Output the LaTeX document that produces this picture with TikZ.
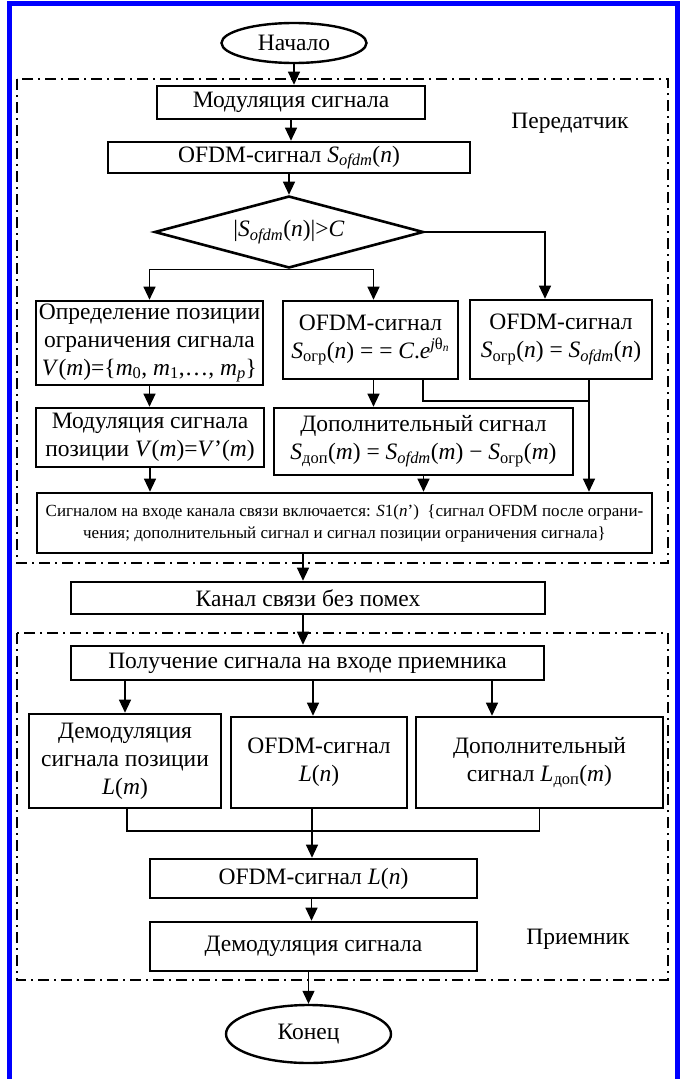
\documentclass[tikz,border=0pt]{standalone}
\usepackage{fontspec}
\setmainfont{Liberation Serif}
\usetikzlibrary{shapes.geometric,arrows.meta}
\newcommand\vi[1]{\textit{#1}}
\newcommand\low[1]{\textsubscript{#1}}
\tikzset{
  blk/.style={draw,line width=2.6pt,rectangle,inner sep=0pt,align=center},
  term/.style={draw,line width=2.4pt,ellipse,inner sep=0pt},
  arr/.style={line width=1.2pt,-{Triangle[width=12pt,length=13pt]}},
  ln/.style={line width=1.2pt},
  zone/.style={line width=2.2pt,dash pattern=on 11pt off 5pt on 2pt off 5pt},
}
\begin{document}
\begin{tikzpicture}[x=1pt,y=-1pt,font=\fontsize{23.5}{28}\selectfont]
\useasboundingbox (0,0) rectangle (685,1079);
\draw[blue,line width=5pt] (9,1090) -- (9,3) -- (677.5,3) -- (677.5,1090);

\draw[zone] (17,79) rectangle (668,563);
\draw[zone] (17,633) rectangle (668,980);

\node[term,minimum width=145pt,minimum height=40pt] (start) at (294,43) {Начало};
\node[blk,minimum width=268pt,minimum height=33pt] (mod) at (291,102.5) {Модуляция сигнала};
\node[blk,minimum width=362pt,minimum height=31pt] (ofdm) at (289,157.5) {OFDM-сигнал \vi{S}\low{\vi{ofdm}}(\vi{n})};
\node[draw,diamond,line width=2.6pt,inner sep=0pt,aspect=3.7,minimum width=269pt,minimum height=72pt] (cond) at (289,232) {|\vi{S}\low{\vi{ofdm}}(\vi{n})|>\vi{C}};
\node (txlbl) at (570,123) {Передатчик};

\node[blk,minimum width=227pt,minimum height=84pt] (pos) at (149.5,343) {Определение позиции\\ограничения сигнала\\\vi{V}(\vi{m})=\{\vi{m}\low{0}, \vi{m}\low{1},…, \vi{m}\low{\vi{p}}\}};
\node[blk,minimum width=175pt,minimum height=78pt] (clip) at (370.5,340) {OFDM-сигнал\\\vi{S}\low{огр}(\vi{n}) = = \vi{C}.\vi{e}\textsuperscript{\vi{j}θ\low{\vi{n}}}};
\node[blk,minimum width=182pt,minimum height=79pt] (nclip) at (561,339.5) {OFDM-сигнал\\\vi{S}\low{огр}(\vi{n}) = \vi{S}\low{\vi{ofdm}}(\vi{n})};
\node[blk,minimum width=228pt,minimum height=59pt] (posmod) at (150,437.5) {Модуляция сигнала\\позиции \vi{V}(\vi{m})=\vi{V}’(\vi{m})};
\node[blk,minimum width=299pt,minimum height=67pt] (extra) at (423.5,441.5) {Дополнительный сигнал\\\vi{S}\low{доп}(\vi{m}) = \vi{S}\low{\vi{ofdm}}(\vi{m}) − \vi{S}\low{огр}(\vi{m})};
\node[blk,minimum width=615pt,minimum height=60pt,font=\fontsize{17}{22}\selectfont] (sig) at (344.5,523) {Сигналом на входе канала связи включается: \vi{S}1(\vi{n}’)~ \{сигнал OFDM после ограни-\\чения; дополнительный сигнал и сигнал позиции ограничения сигнала\}};
\coordinate (jn) at (589,401);

\node[blk,minimum width=474pt,minimum height=32pt] (chan) at (308,598) {Канал связи без помех};
\node[blk,minimum width=473pt,minimum height=34pt] (rx) at (307.5,663) {Получение сигнала на входе приемника};
\node[blk,minimum width=192pt,minimum height=94pt] (dpos) at (125,761) {Демодуляция\\сигнала позиции\\\vi{L}(\vi{m})};
\node[blk,minimum width=176pt,minimum height=91pt] (dofdm) at (319,762.5) {OFDM-сигнал\\\vi{L}(\vi{n})};
\node[blk,minimum width=247pt,minimum height=91pt] (dextra) at (539.5,762.5) {Дополнительный\\сигнал \vi{L}\low{доп}(\vi{m})};
\coordinate (mrg) at (312,831);
\node[blk,minimum width=327pt,minimum height=39pt] (lofdm) at (313.5,878.5) {OFDM-сигнал \vi{L}(\vi{n})};
\node[blk,minimum width=327pt,minimum height=49pt] (demod) at (313.5,946.5) {Демодуляция сигнала};
\node (rxlbl) at (578,939) {Приемник};
\node[term,minimum width=165pt,minimum height=58pt] (end) at (308.5,1034) {Конец};

\draw[arr] (start.south) -- (start.south |- mod.north);
\draw[arr] (mod.south) -- (mod.south |- ofdm.north);
\draw[arr] (ofdm.south) -- (ofdm.south |- cond.north);
\draw[arr] (cond.south) -| (pos.north);
\draw[arr] (cond.south) -| ([xshift=3pt]clip.north);
\draw[arr] (cond.east) -| ([xshift=-16pt]nclip.north);
\draw[arr] (pos.south) -- (pos.south |- posmod.north);
\draw[arr] ([xshift=3pt]clip.south) -- ([xshift=3pt]clip.south |- extra.north);
\draw[ln] ([xshift=52.5pt]clip.south) |- (jn);
\draw[arr] ([xshift=28pt]nclip.south) -- ([xshift=28pt]nclip.south |- sig.north);
\draw[arr] (posmod.south) -- (posmod.south |- sig.north);
\draw[arr] (extra.south) -- (extra.south |- sig.north);
\draw[arr] ([xshift=-5pt]chan.north |- sig.south) -- ([xshift=-5pt]chan.north);
\draw[arr] ([xshift=-5pt]chan.south) -- ([xshift=-5pt]chan.south |- rx.north);
\draw[arr] (dpos.north |- rx.south) -- (dpos.north);
\draw[arr] ([xshift=-6pt]dofdm.north |- rx.south) -- ([xshift=-6pt]dofdm.north);
\draw[arr] ([xshift=-47.5pt]dextra.north |- rx.south) -- ([xshift=-47.5pt]dextra.north);
\draw[ln] ([xshift=2pt]dpos.south) |- (mrg) -| (dextra.south);
\draw[arr] ([xshift=-7pt]dofdm.south) -- ([xshift=-7pt]dofdm.south |- lofdm.north);
\draw[arr] ([xshift=-2pt]lofdm.south) -- ([xshift=-2pt]lofdm.south |- demod.north);
\draw[arr] (end.north |- demod.south) -- (end.north);
\end{tikzpicture}
\end{document}
